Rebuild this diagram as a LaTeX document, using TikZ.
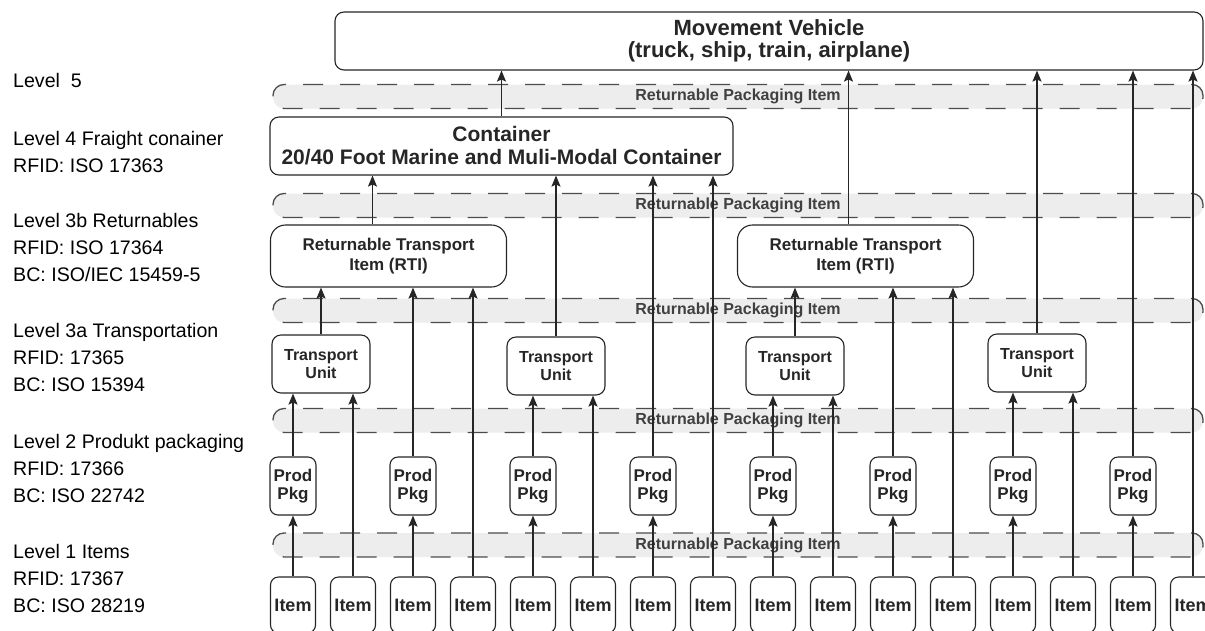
\documentclass[tikz,border=0pt]{standalone}
\usepackage{fontspec}
\setmainfont{Liberation Sans}
\usetikzlibrary{arrows.meta}

\tikzset{
  box/.style={draw=black!85,line width=1.1pt,rounded corners=9pt,fill=white,
    align=center,text=black!85,inner sep=0pt},
  itembox/.style={box,minimum width=45pt,minimum height=56pt,rounded corners=8pt,
    font=\bfseries\fontsize{18}{20}\selectfont},
  pkgbox/.style={box,minimum width=46pt,minimum height=58pt,rounded corners=8pt,
    font=\bfseries\fontsize{17}{18}\selectfont},
  tubox/.style={box,minimum width=98pt,minimum height=58pt,
    font=\bfseries\fontsize{16}{18}\selectfont},
  rtibox/.style={box,minimum width=236pt,minimum height=62pt,rounded corners=15pt,
    font=\bfseries\fontsize{17}{20}\selectfont},
  band/.style={fill=black!7,draw=black!70,line width=1.3pt,dash pattern=on 20pt off 17pt,
    dash phase=-18pt,rounded corners=11pt,minimum width=930pt,minimum height=24pt,
    inner sep=0pt,text=black!75,font=\bfseries\fontsize{16}{18}\selectfont},
  lvl/.style={anchor=base west,align=left,inner sep=0pt,
    font=\fontsize{19.6}{27}\selectfont},
  arr/.style={-{Stealth[length=11pt,width=9pt,inset=2pt]},line width=1.3pt,draw=black!85}
}

\begin{document}
\begin{tikzpicture}[x=1pt,y=-1pt]
  \useasboundingbox (0,0) rectangle (1205,630);
  \clip (0,0) rectangle (1205,630);
  % returnable packaging bands
  \foreach \y [count=\n] in {96.5,205.5,310.5,420.5,545}
    \node[band] (rp\n) at (738,\y) {Returnable Packaging Item};
  % level 1 and 2
  \foreach \i in {0,...,15}
    \node[itembox] (item\i) at (293+60*\i,605) {Item};
  \foreach \k in {0,...,7}
    \node[pkgbox] (pkg\k) at (293+120*\k,486) {Prod\\Pkg};
  % level 3a, 3b
  \node[tubox] (tuA) at (321,364) {Transport\\Unit};
  \node[tubox] (tuB) at (556,366) {Transport\\Unit};
  \node[tubox] (tuC) at (795,366) {Transport\\Unit};
  \node[tubox] (tuD) at (1037,363) {Transport\\Unit};
  \node[rtibox] (rtiA) at (388.5,256) {Returnable Transport\\Item (RTI)};
  \node[rtibox] (rtiB) at (855.5,256) {Returnable Transport\\Item (RTI)};
  % level 4 and 5
  \node[box,minimum width=463pt,minimum height=58pt,font=\bfseries\fontsize{21}{23}\selectfont]
    (cont) at (501.5,146) {Container\\20/40 Foot Marine and Muli-Modal Container};
  \node[box,minimum width=868pt,minimum height=58pt,font=\bfseries\fontsize{22}{22}\selectfont]
    (mv) at (769,41) {Movement Vehicle\\(truck, ship, train, airplane)};
  % connectors
  \foreach \k [evaluate=\k as \i using int(2*\k)] in {0,...,7}
    \draw[arr] (item\i) -- (pkg\k);
  \foreach \s/\t in {item1/tuA,item3/rtiA,item5/tuB,item7/cont,item9/tuC,item11/rtiB,
      item13/tuD,item15/mv,pkg0/tuA,pkg1/rtiA,pkg2/tuB,pkg3/cont,pkg4/tuC,pkg5/rtiB,
      pkg6/tuD,pkg7/mv,tuA/rtiA,tuB/cont,tuC/rtiB,tuD/mv,cont/mv}
    \draw[arr] (\s) -- (\s |- \t.south);
  \draw[arr] ([xshift=-16pt]rtiA.north) -- ([xshift=-16pt]rtiA.north |- cont.south);
  \draw[arr] ([xshift=-7pt]rtiB.north) -- ([xshift=-7pt]rtiB.north |- mv.south);
  % level captions (anchored on the last line)
  \node[lvl] (lvl5) at (13,87) {Level\ \ 5};
  \node[lvl] (lvl4) at (13,172) {Level 4 Fraight conainer\\RFID: ISO 17363};
  \node[lvl] (lvl3b) at (13,281) {Level 3b Returnables\\RFID: ISO 17364\\BC: ISO/IEC 15459-5};
  \node[lvl] (lvl3a) at (13,391) {Level 3a Transportation\\RFID: 17365\\BC: ISO 15394};
  \node[lvl] (lvl2) at (13,502) {Level 2 Produkt packaging\\RFID: 17366\\BC: ISO 22742};
  \node[lvl] (lvl1) at (13,612) {Level 1 Items\\RFID: 17367\\BC: ISO 28219};
\end{tikzpicture}
\end{document}
